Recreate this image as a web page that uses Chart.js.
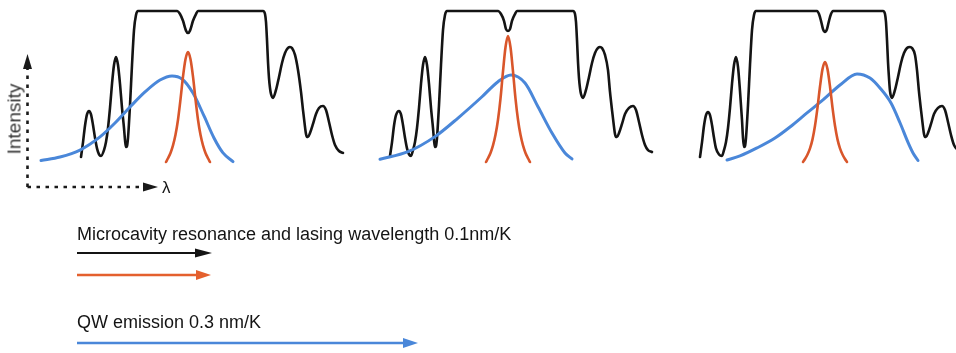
<!DOCTYPE html>
<html>
<head>
<meta charset="utf-8">
<script src="https://cdn.jsdelivr.net/npm/chart.js@4.4.1/dist/chart.umd.min.js"></script>
<style>
  html, body { margin: 0; padding: 0; background: #fff; }
  #wrap { position: relative; width: 956px; height: 353px; overflow: hidden; }
  #c { position: absolute; left: 0; top: 0; }
  .lbl { position: absolute; font-family: "Liberation Sans", Arial, Helvetica, sans-serif;
         color: #141414; white-space: nowrap; line-height: 1; }
</style>
</head>
<body>
<div id="wrap">
  <canvas id="c" width="956" height="353"></canvas>
  <div class="lbl" id="yLabel" style="font-size:19px;color:#333;left:14px;top:119px;transform:translate(-50%,-50%) rotate(-90deg);">Intensity</div>
  <div class="lbl" style="font-size:17px;left:162px;top:179px;">λ</div>
  <div class="lbl" style="font-size:18px;left:77px;top:225px;">Microcavity resonance and lasing wavelength 0.1nm/K</div>
  <div class="lbl" style="font-size:18px;left:77px;top:313px;">QW emission 0.3 nm/K</div>
</div>
<script>
// Three temperature snapshots, each as [wavelength (a.u.), normalised intensity].

// Microcavity reflectance (stop band with resonance dip)
const cavity1 = [[81,0.033],[83,0.13],[85,0.24],[87,0.315],[89,0.338],[91,0.315],[93,0.245],[95,0.16],[97,0.09],[99,0.05],[101,0.040],[104,0.079],[106,0.132],[108,0.225],[110,0.358],[112,0.517],[114,0.642],[116,0.695],[118,0.642],[120,0.517],[122,0.358],[124,0.225],[125,0.146],[126,0.099],[127,0.106],[128,0.159],[130,0.377],[132,0.642],[134,0.874],[136,0.974],[138,1],[177,1],[180,0.98],[183,0.935],[186,0.87],[188,0.854],[190,0.87],[193,0.935],[196,0.98],[198,1],[263,1],[265,0.98],[266,0.927],[267,0.808],[268,0.662],[269,0.556],[270,0.49],[271,0.45],[273,0.424],[276,0.477],[279,0.563],[282,0.656],[285,0.722],[288,0.755],[290,0.762],[292,0.755],[295,0.709],[298,0.609],[301,0.464],[303,0.344],[305,0.232],[306,0.185],[307,0.166],[308,0.166],[310,0.192],[313,0.252],[316,0.318],[319,0.358],[323,0.371],[326,0.344],[329,0.265],[332,0.179],[335,0.113],[339,0.073],[343,0.060]];
const cavity2 = [[80,0.040],[82,0.13],[84,0.24],[86,0.31],[89,0.338],[91,0.315],[93,0.245],[95,0.16],[97,0.09],[99,0.05],[101,0.040],[103,0.079],[105,0.132],[107,0.225],[109,0.358],[111,0.517],[113,0.642],[115,0.695],[117,0.642],[119,0.517],[121,0.358],[123,0.225],[124,0.146],[125,0.099],[126,0.106],[127,0.159],[129,0.377],[131,0.642],[133,0.874],[135,0.974],[137,1],[188,1],[191,0.98],[194,0.935],[196,0.88],[198,0.868],[200,0.88],[202,0.935],[205,0.98],[207,1],[263,1],[265,0.98],[266,0.927],[267,0.808],[268,0.662],[269,0.556],[270,0.49],[271,0.45],[273,0.424],[276,0.477],[279,0.563],[282,0.656],[285,0.722],[288,0.755],[290,0.762],[292,0.755],[295,0.709],[298,0.609],[300,0.464],[302,0.344],[304,0.232],[305,0.185],[306,0.166],[307,0.166],[309,0.192],[312,0.252],[315,0.318],[319,0.358],[323,0.371],[326,0.344],[329,0.265],[332,0.179],[335,0.113],[338,0.079],[342,0.066]];
const cavity3 = [[80,0.033],[82,0.13],[84,0.24],[86,0.31],[88,0.331],[90,0.31],[92,0.245],[94,0.16],[96,0.09],[99,0.05],[102,0.040],[104,0.079],[106,0.132],[108,0.225],[110,0.358],[112,0.517],[114,0.642],[116,0.695],[118,0.630],[120,0.470],[122,0.278],[123,0.160],[124,0.099],[125,0.106],[126,0.159],[128,0.377],[130,0.642],[132,0.874],[134,0.974],[136,1],[197,1],[199,0.98],[201,0.935],[203,0.88],[205,0.861],[207,0.88],[209,0.935],[211,0.98],[213,1],[263,1],[265,0.98],[266,0.927],[267,0.808],[268,0.662],[269,0.556],[270,0.47],[272,0.424],[275,0.477],[278,0.563],[281,0.656],[284,0.722],[287,0.755],[290,0.762],[292,0.755],[295,0.709],[297,0.609],[299,0.464],[301,0.344],[303,0.232],[304,0.185],[305,0.166],[306,0.166],[308,0.192],[311,0.252],[314,0.318],[318,0.358],[322,0.371],[325,0.344],[328,0.265],[331,0.179],[334,0.113],[338,0.079],[343,0.060]];

// Lasing line
const lasing1 = [[166,0],[168,0.025],[170.5,0.06],[173,0.11],[175.5,0.18],[178,0.28],[180.5,0.415],[183,0.565],[185.5,0.68],[188,0.728],[190.5,0.68],[193,0.565],[195.5,0.415],[198,0.28],[200.5,0.18],[203,0.11],[205.5,0.06],[208,0.025],[210,0]];
const lasing2 = [[176,0],[178,0.025],[180.5,0.06],[183,0.11],[185.5,0.18],[188,0.28],[190.5,0.42],[193,0.60],[195.5,0.76],[198,0.834],[200.5,0.76],[203,0.60],[205.5,0.42],[208,0.28],[210.5,0.18],[213,0.11],[215.5,0.06],[218,0.025],[220,0]];
const lasing3 = [[183,0],[185,0.02],[187.5,0.05],[190,0.09],[192.5,0.15],[195,0.24],[197.5,0.36],[200,0.50],[202.5,0.615],[205,0.662],[207.5,0.615],[210,0.50],[212.5,0.36],[215,0.24],[217.5,0.15],[220,0.09],[222.5,0.05],[225,0.02],[227,0]];

// Quantum-well gain / emission spectrum
const qw1 = [[41,0.010],[60,0.033],[80,0.079],[100,0.166],[115,0.258],[130,0.364],[145,0.464],[160,0.543],[172,0.570],[182,0.550],[193,0.457],[204,0.305],[214,0.159],[223,0.060],[233,0.003]];
const qw2 = [[70,0.018],[98,0.068],[125,0.168],[148,0.291],[172,0.432],[188,0.532],[201,0.576],[215,0.523],[228,0.366],[242,0.192],[255,0.060],[262,0.020]];
const qw3 = [[107,0.013],[120,0.040],[137,0.093],[155,0.159],[170,0.232],[187,0.325],[203,0.411],[220,0.510],[237,0.583],[250,0.556],[260,0.490],[271,0.391],[280,0.26],[288,0.13],[293,0.06],[298,0.01]];

const panels = [
  { cavity: cavity1, lasing: lasing1, qw: qw1 },
  { cavity: cavity2, lasing: lasing2, qw: qw2 },
  { cavity: cavity3, lasing: lasing3, qw: qw3 }
];

// ---- layout ----
const W = 956, H = 353;
const panelShift = [0, 310, 620];          // horizontal placement of each snapshot
const baseY = 162, fullY = 11;              // canvas rows for intensity 0 and 1
const pxPerUnit = baseY - fullY;
const yMax = baseY / pxPerUnit;
const yMin = yMax - H / pxPerUnit;

const COLORS = { cavity: '#141414', lasing: '#d9562b', qw: '#4a87d9', lasingArrow: '#e4602e' };

function toPoints(arr, shift) { return arr.map(p => ({ x: p[0] + shift, y: p[1] })); }

const datasets = [];
panels.forEach((p, i) => {
  datasets.push({ data: toPoints(p.lasing, panelShift[i]), borderColor: COLORS.lasing, borderWidth: 2.6, order: 0 });
  datasets.push({ data: toPoints(p.qw, panelShift[i]), borderColor: COLORS.qw, borderWidth: 3, order: 1 });
  datasets.push({ data: toPoints(p.cavity, panelShift[i]), borderColor: COLORS.cavity, borderWidth: 2.6, order: 2 });
});
datasets.forEach(d => Object.assign(d, {
  showLine: true, pointRadius: 0, fill: false,
  cubicInterpolationMode: 'monotone',
  borderCapStyle: 'round', borderJoinStyle: 'round'
}));

// Dotted intensity/λ axes and the drift arrows underneath
const decor = {
  id: 'decor',
  afterDatasetsDraw(chart) {
    const ctx = chart.ctx;
    ctx.save();
    const tri = (pts, col) => {
      ctx.fillStyle = col; ctx.beginPath();
      ctx.moveTo(pts[0][0], pts[0][1]); ctx.lineTo(pts[1][0], pts[1][1]); ctx.lineTo(pts[2][0], pts[2][1]);
      ctx.closePath(); ctx.fill();
    };
    // axes
    ctx.strokeStyle = '#1a1a1a'; ctx.lineWidth = 2.6; ctx.lineCap = 'butt';
    ctx.setLineDash([3.5, 5.5]);
    ctx.beginPath(); ctx.moveTo(27.5, 187); ctx.lineTo(27.5, 68); ctx.stroke();
    ctx.beginPath(); ctx.moveTo(27.5, 187); ctx.lineTo(145, 187); ctx.stroke();
    ctx.setLineDash([]);
    tri([[27.5, 54], [23, 69], [32, 69]], '#1a1a1a');
    tri([[158, 187], [143, 182.5], [143, 191.5]], '#1a1a1a');

    const arrow = (x0, x1, y, col, lw, headLen, half) => {
      ctx.strokeStyle = col; ctx.lineWidth = lw;
      ctx.beginPath(); ctx.moveTo(x0, y); ctx.lineTo(x1 - headLen + 1, y); ctx.stroke();
      tri([[x1, y], [x1 - headLen, y - half], [x1 - headLen, y + half]], col);
    };
    arrow(77, 212, 253, '#141414', 2, 17, 4.5);
    arrow(77, 211, 275, COLORS.lasingArrow, 2.6, 15, 5);
    arrow(77, 418, 343, COLORS.qw, 2.6, 15, 5);
    ctx.restore();
  }
};

new Chart(document.getElementById('c'), {
  type: 'scatter',
  data: { datasets },
  options: {
    responsive: false, animation: false, devicePixelRatio: 1,
    layout: { padding: 0 },
    plugins: { legend: { display: false }, tooltip: { enabled: false } },
    scales: {
      x: { type: 'linear', display: false, min: 0, max: W },
      y: { type: 'linear', display: false, min: yMin, max: yMax }
    }
  },
  plugins: [decor]
});
</script>
</body>
</html>
